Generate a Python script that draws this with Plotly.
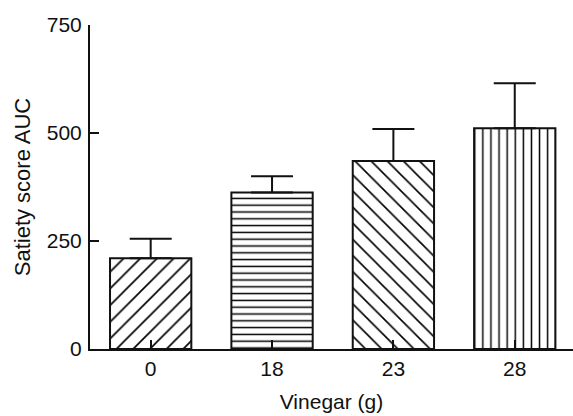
import plotly.graph_objects as go

categories = ["0", "18", "23", "28"]
values = [210, 362, 435, 511]
errors = [45, 38, 74, 104]
y_ticks = [0, 250, 500, 750]
patterns = ["/", "-", "\\", "|"]
pattern_sizes = [11.8, 6.8, 11.4, 8.1]
pattern_solidity = [0.14, 0.22, 0.14, 0.18]

FONT = "Arial, Liberation Sans, Helvetica, sans-serif"
INK = "#111111"

fig = go.Figure()
fig.add_trace(go.Bar(
    x=categories,
    y=values,
    width=0.67,
    marker=dict(
        color="white",
        line=dict(color=INK, width=2),
        pattern=dict(shape=patterns, size=pattern_sizes, solidity=pattern_solidity,
                     fgcolor="black", fgopacity=1, bgcolor="white", fillmode="overlay"),
    ),
    error_y=dict(type="data", symmetric=False, array=errors,
                 arrayminus=[0] * len(errors), color=INK, thickness=2, width=21),
    showlegend=False,
))

fig.update_layout(
    width=573, height=416,
    margin=dict(l=90, r=0, t=25, b=67, autoexpand=False),
    paper_bgcolor="white", plot_bgcolor="white",
    font=dict(family=FONT, size=21, color=INK),
)
fig.update_xaxes(
    type="category", range=[-0.5, 3.48], automargin=False,
    showline=True, linecolor=INK, linewidth=2,
    ticks="inside", ticklen=9, tickwidth=2, tickcolor=INK,
    showgrid=False, zeroline=False,
    tickfont=dict(size=21), ticklabelstandoff=0,
    title=dict(text="Vinegar (g)", font=dict(size=21), standoff=15),
)
fig.update_yaxes(
    range=[0, 750], tickvals=y_ticks, automargin=False,
    showline=True, linecolor=INK, linewidth=2,
    ticks="inside", ticklen=9, tickwidth=2, tickcolor=INK,
    showgrid=False, zeroline=False,
    tickfont=dict(size=21), ticklabelstandoff=2,
    title=dict(text="Satiety score AUC", font=dict(size=22), standoff=10),
)

fig.write_html("out.html", config={"displayModeBar": False},
               post_script="document.body.style.margin='0';document.body.style.padding='0';")
